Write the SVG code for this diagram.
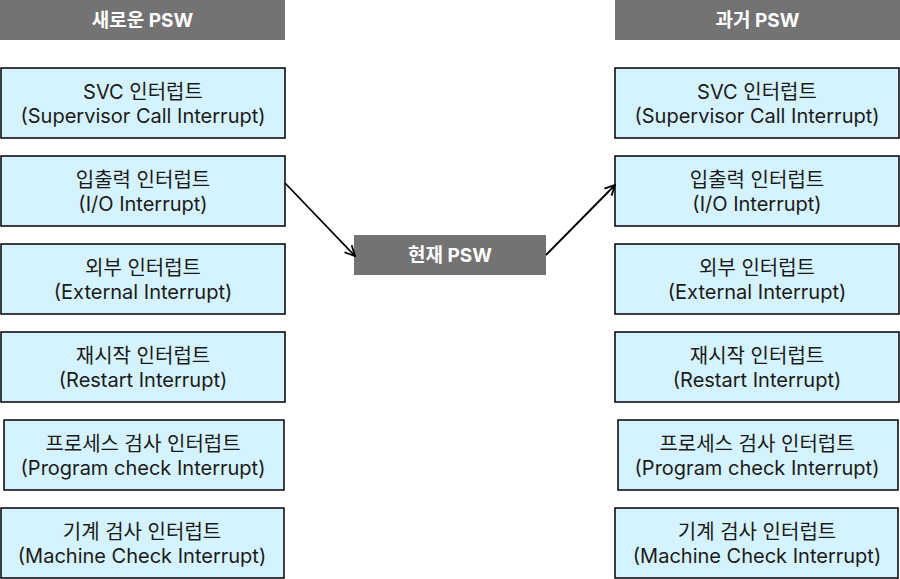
<svg xmlns="http://www.w3.org/2000/svg" width="900" height="579" viewBox="0 0 900 579">
<defs>
<style>
.hdr{fill:#737373;}
.ht{fill:#ffffff;font-family:Inter,"Noto Sans CJK KR",sans-serif;font-size:19px;font-weight:bold;text-anchor:middle;}
.box{fill:#d5f3fe;stroke:#000000;stroke-width:1.5;}
.bt{fill:#1a1a1a;font-family:Inter,"Noto Sans CJK KR",sans-serif;font-size:20px;text-anchor:middle;}
.conn{fill:none;stroke:#000000;stroke-width:1.8;}
</style>
<marker id="arr" viewBox="0 0 12 12" refX="11" refY="6" markerWidth="12" markerHeight="12" markerUnits="userSpaceOnUse" orient="auto">
<path d="M1,1 L11,6 L1,11" fill="none" stroke="#000000" stroke-width="1.8"/>
</marker>
</defs>
<rect width="900" height="579" fill="#ffffff"/>
<g id="new-psw"><rect class="hdr" x="0" y="0" width="285" height="40"/><text class="ht" x="142.5" y="27">새로운 PSW</text></g>
<g id="old-psw"><rect class="hdr" x="615" y="0" width="285" height="40"/><text class="ht" x="757.5" y="27">과거 PSW</text></g>
<g id="cur-psw"><rect class="hdr" x="354" y="235" width="192" height="40"/><text class="ht" x="450" y="262">현재 PSW</text></g>

<g id="l-svc"><rect class="box" x="1" y="68" width="284" height="70"/><text class="bt" x="143" y="99">SVC 인터럽트</text><text class="bt" x="143" y="123">(Supervisor Call Interrupt)</text></g>
<g id="l-io"><rect class="box" x="1" y="156" width="284" height="70"/><text class="bt" x="143" y="187">입출력 인터럽트</text><text class="bt" x="143" y="211">(I/O Interrupt)</text></g>
<g id="l-ext"><rect class="box" x="1" y="244" width="284" height="70"/><text class="bt" x="143" y="275">외부 인터럽트</text><text class="bt" x="143" y="299">(External Interrupt)</text></g>
<g id="l-rst"><rect class="box" x="1" y="332" width="284" height="70"/><text class="bt" x="143" y="363">재시작 인터럽트</text><text class="bt" x="143" y="387">(Restart Interrupt)</text></g>
<g id="l-prg"><rect class="box" x="4" y="420" width="280" height="70"/><text class="bt" x="143" y="451">프로세스 검사 인터럽트</text><text class="bt" x="143" y="475">(Program check Interrupt)</text></g>
<g id="l-mch"><rect class="box" x="1" y="508" width="283" height="70"/><text class="bt" x="142" y="539">기계 검사 인터럽트</text><text class="bt" x="142" y="563">(Machine Check Interrupt)</text></g>

<g id="r-svc"><rect class="box" x="615" y="68" width="284" height="70"/><text class="bt" x="757" y="99">SVC 인터럽트</text><text class="bt" x="757" y="123">(Supervisor Call Interrupt)</text></g>
<g id="r-io"><rect class="box" x="615" y="156" width="284" height="70"/><text class="bt" x="757" y="187">입출력 인터럽트</text><text class="bt" x="757" y="211">(I/O Interrupt)</text></g>
<g id="r-ext"><rect class="box" x="615" y="244" width="284" height="70"/><text class="bt" x="757" y="275">외부 인터럽트</text><text class="bt" x="757" y="299">(External Interrupt)</text></g>
<g id="r-rst"><rect class="box" x="615" y="332" width="284" height="70"/><text class="bt" x="757" y="363">재시작 인터럽트</text><text class="bt" x="757" y="387">(Restart Interrupt)</text></g>
<g id="r-prg"><rect class="box" x="618" y="420" width="280" height="70"/><text class="bt" x="757" y="451">프로세스 검사 인터럽트</text><text class="bt" x="757" y="475">(Program check Interrupt)</text></g>
<g id="r-mch"><rect class="box" x="615" y="508" width="283" height="70"/><text class="bt" x="757" y="539">기계 검사 인터럽트</text><text class="bt" x="757" y="563">(Machine Check Interrupt)</text></g>

<g id="connectors">
<line class="conn" x1="285" y1="183" x2="355" y2="256" marker-end="url(#arr)"/>
<line class="conn" x1="546" y1="255" x2="615" y2="185" marker-end="url(#arr)"/>
</g>
</svg>
